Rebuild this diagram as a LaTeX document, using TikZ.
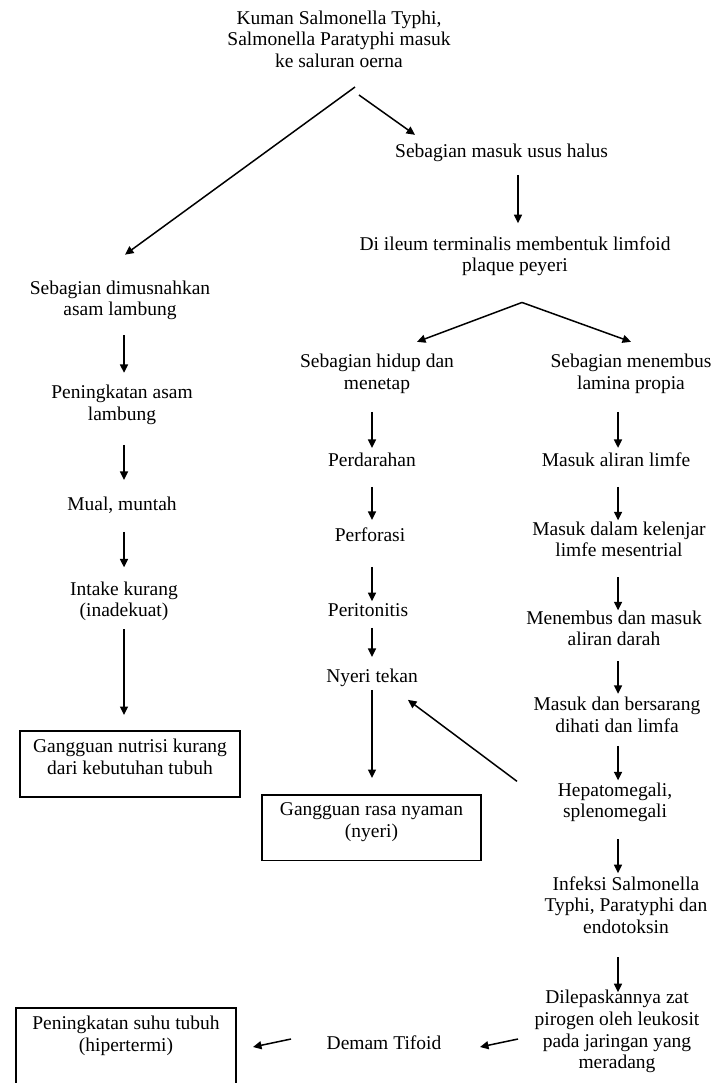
\documentclass[tikz,border=0pt]{standalone}
\usepackage{fontspec}
\setmainfont{Liberation Serif}
\usetikzlibrary{arrows.meta,calc}
\tikzset{
  txt/.style={font=\fontsize{19.5}{21.7}\selectfont, align=center, inner sep=0pt, outer sep=0pt,
    execute at begin node=\strut, execute at end node=\strut},
  boxed/.style={txt, draw, line width=1.5pt, minimum width=220pt, inner ysep=8pt, anchor=north,
    execute at end node={\strut\rule[-15pt]{0pt}{1pt}}},
  arr/.style={-{Triangle[length=8.5pt,width=8pt]}, line width=1.5pt},
  vgap/.style 2 args={shorten <=#1, shorten >=#2}
}
\begin{document}
\begin{tikzpicture}[x=1pt,y=-1pt]
\useasboundingbox (0,0) rectangle (713,1083);
\clip (0,0) rectangle (713,1083);
\fill[white] (0,0) rectangle (713,1083);

\coordinate (colL) at (124,0);
\coordinate (colM) at (372,0);
\coordinate (colR) at (618,0);
\coordinate (colT) at (518,0);

% top
\node[txt] (top) at (339,42.3) {Kuman Salmonella Typhi,\\Salmonella Paratyphi masuk\\ke saluran oerna};
\node[txt] (masuk) at (501.6,153) {Sebagian masuk usus halus};
\node[txt] (ileum) at (515,257.5) {Di ileum terminalis membentuk limfoid\\plaque peyeri};

% left column
\node[txt] (dimus) at (120,301.5) {Sebagian dimusnahkan\\asam lambung};
\node[txt] (peningA) at (122,406) {Peningkatan asam\\lambung};
\node[txt] (mual) at (122,506) {Mual, muntah};
\node[txt] (intake) at (124,602.5) {Intake kurang\\(inadekuat)};
\node[boxed] (nutrisi) at (130,731) {Gangguan nutrisi kurang\\dari kebutuhan tubuh};

% middle column
\node[txt] (hidup) at (377,375) {Sebagian hidup dan\\menetap};
\node[txt] (perdarahan) at (372,462) {Perdarahan};
\node[txt] (perforasi) at (370,537) {Perforasi};
\node[txt] (peritonitis) at (368,612) {Peritonitis};
\node[txt] (nyeri) at (372,678) {Nyeri tekan};
\node[boxed, minimum width=219pt] (nyaman) at (371.5,795) {Gangguan rasa nyaman\\(nyeri)};

% right column
\node[txt] (menembus) at (631,375) {Sebagian menembus\\lamina propia};
\node[txt] (aliran) at (616,462) {Masuk aliran limfe};
\node[txt] (kelenjar) at (619,542.5) {Masuk dalam kelenjar\\limfe mesentrial};
\node[txt] (darah) at (614,631.5) {Menembus dan masuk\\aliran darah};
\node[txt] (sarang) at (617,718) {Masuk dan bersarang\\dihati dan limfa};
\node[txt] (hepato) at (615,803.5) {Hepatomegali,\\splenomegali};
\node[txt] (infeksi) at (626,908.3) {Infeksi Salmonella\\Typhi, Paratyphi dan\\endotoksin};
\node[txt] (pirogen) at (617,1032.8) {Dilepaskannya zat\\pirogen oleh leukosit\\pada jaringan yang\\meradang};

% bottom row
\node[txt] (demam) at (384,1045) {Demam Tifoid};
\node[boxed, execute at end node={\strut\rule[-70pt]{0pt}{1pt}}] (suhu) at (126,1008) {Peningkatan suhu tubuh\\(hipertermi)};

% connectors from the top
\draw[arr] ($(top.south)+(16,13)$) -- ($(dimus.north)+(5,-26)$);
\draw[arr] ($(top.south)+(20,21)$) -- ($(masuk.north)+(-86.6,-7.3)$);
\draw[arr, vgap={11pt}{13.3pt}] (masuk.south -| colT) -- (ileum.north -| colT);
\coordinate (apex) at ($(ileum.south)+(7,24)$);
\draw[arr] (apex) -- ($(hidup.north)+(40,-12.3)$);
\draw[arr] (apex) -- ($(menembus.north)+(0,-12.3)$);

% left column
\draw[arr, vgap={13pt}{12.3pt}] (dimus.south -| colL) -- (peningA.north -| colL);
\draw[arr, vgap={18pt}{15.3pt}] (peningA.south -| colL) -- (mual.north -| colL);
\draw[arr, vgap={15pt}{14.3pt}] (mual.south -| colL) -- (intake.north -| colL);
\draw[arr, vgap={6pt}{16pt}] (intake.south -| colL) -- (nutrisi.north -| colL);

% middle column
\draw[arr, vgap={16pt}{3.3pt}] (hidup.south -| colM) -- (perdarahan.north -| colM);
\draw[arr, vgap={14pt}{6.3pt}] (perdarahan.south -| colM) -- (perforasi.north -| colM);
\draw[arr, vgap={19pt}{0pt}] (perforasi.south -| colM) -- (peritonitis.north -| colM);
\draw[arr, vgap={5pt}{10.3pt}] (peritonitis.south -| colM) -- (nyeri.north -| colM);
\draw[arr, vgap={1pt}{17pt}] (nyeri.south -| colM) -- (nyaman.north -| colM);

% right column
\draw[arr, vgap={16pt}{3.3pt}] (menembus.south -| colR) -- (aliran.north -| colR);
\draw[arr, vgap={14pt}{1.3pt}] (aliran.south -| colR) -- (kelenjar.north -| colR);
\draw[arr, vgap={14pt}{0.3pt}] (kelenjar.south -| colR) -- (darah.north -| colR);
\draw[arr, vgap={9pt}{3.3pt}] (darah.south -| colR) -- (sarang.north -| colR);
\draw[arr, vgap={7pt}{2.3pt}] (sarang.south -| colR) -- (hepato.north -| colR);
\draw[arr, vgap={15pt}{3.3pt}] (hepato.south -| colR) -- (infeksi.north -| colR);
\draw[arr, vgap={17pt}{-2pt}] (infeksi.south -| colR) -- (pirogen.north -| colR);

% cross connectors
\draw[arr] ($(hepato.north)+(-98,-1.3)$) -- ($(nyeri.south)+(36,11)$);
\draw[arr] ($(pirogen.center)+(-99,6.2)$) -- ($(demam.center)+(96,2)$);
\draw[arr] ($(demam.center)+(-93,-6)$) -- ($(suhu.north east)+(17,39)$);
\end{tikzpicture}
\end{document}
